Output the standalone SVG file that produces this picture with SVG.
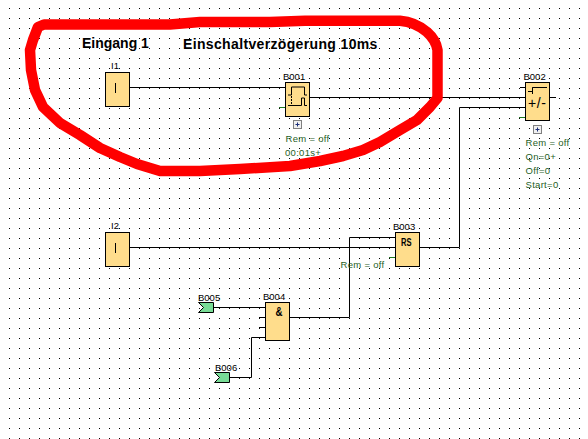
<svg xmlns="http://www.w3.org/2000/svg" width="588" height="439" viewBox="0 0 588 439">
<style>
.b{fill:#ffdd8c;stroke:#000;stroke-width:1}
.w{fill:none;stroke:#000;stroke-width:1}
.s{fill:none;stroke:#1f7a1f;stroke-width:1}
.t{font-family:"Liberation Sans",Arial,sans-serif;font-size:9.5px;fill:#000}
.g{font-family:"Liberation Sans",Arial,sans-serif;font-size:9.5px;fill:#1f5f1f;letter-spacing:.3px}
.h{font-family:"Liberation Sans",Arial,sans-serif;font-size:14px;font-weight:bold;fill:#000}
.k{font-family:"Liberation Sans",Arial,sans-serif;fill:#000}
.m{fill:#78dc96;stroke:#000;stroke-width:1}
.p{fill:#f0f0f0;stroke:#808080;stroke-width:1}
.q{fill:none;stroke:#1c2f7a;stroke-width:1}
</style>
<defs><pattern id="d" x="9" y="8" width="10" height="10" patternUnits="userSpaceOnUse"><rect width="1" height="1" fill="#000"/></pattern></defs>
<rect width="588" height="439" fill="#fff"/>
<rect width="588" height="439" fill="url(#d)"/>
<g id="connectors">
<path class="w" d="M130 87.5H285M310 97.5H525M520 87.5H525M550 97.5H556M130 247.5H395M420 247.5H459.5V107.5H525M349.5 317.5V237.5H395M290 317.5H349.5M214 307.5H265M259 317.5H265M259 327.5H265M265 337.5H251.5V377.5H230"/>
<path class="s" d="M279 107.5H285M519 117.5H525M389 257.5H395"/>
</g>
<g id="I1"><rect class="b" x="105.5" y="72.5" width="24" height="34"/><path class="w" d="M115.500 83V93"/><text class="t" x="111" y="69">I1</text></g>
<g id="B001"><rect class="b" x="285.5" y="82.5" width="24" height="34"/><path class="w" d="M288 95H291.500V87H304.500V95H307M288 105.500H301.500V98H304.500V105.500H307"/><path class="w" stroke-dasharray="2 1" d="M291.500 96V105"/><text class="t" x="283" y="79.500">B001</text>
<rect class="p" x="293.500" y="120.500" width="8" height="8"/><path class="q" d="M295.500 124.500H299.500M297.500 122.500V126.500"/>
<text class="g" x="285.500" y="142">Rem = off</text><text class="g" x="285" y="156">00:01s+</text></g>
<g id="B002"><rect class="b" x="525.5" y="82.5" width="24" height="38"/><path class="w" d="M528 91.500H532.500V87.500H547M532.500 87.500V94"/><text class="k" x="528" y="108" style="font-size:14px;letter-spacing:.6px">+/-</text><text class="t" x="523.500" y="79.500">B002</text>
<rect class="p" x="533.500" y="125.500" width="8" height="8"/><path class="q" d="M535.500 129.500H539.500M537.500 127.500V131.500"/>
<text class="g" x="525.500" y="146">Rem = off</text><text class="g" x="525.500" y="159.500">Qn=0+</text><text class="g" x="525.500" y="173.500">Off=0</text><text class="g" x="525.500" y="187.500">Start=0</text></g>
<g id="I2"><rect class="b" x="105.5" y="232.500" width="24" height="34"/><path class="w" d="M115.500 243V253"/><text class="t" x="111" y="229">I2</text></g>
<g id="B003"><rect class="b" x="395.500" y="232.500" width="24" height="34"/><text class="k" x="401" y="246" textLength="10.500" lengthAdjust="spacingAndGlyphs" style="font-size:11px;font-weight:bold">RS</text><text class="t" x="393" y="229.500">B003</text><text class="g" x="340.500" y="268">Rem = off</text></g>
<g id="B004"><rect class="b" x="265.500" y="302.500" width="24" height="38"/><text class="k" x="275.500" y="316" textLength="7" lengthAdjust="spacingAndGlyphs" style="font-size:12px;font-weight:bold">&amp;</text><text class="t" x="263" y="299.500">B004</text></g>
<g id="B005"><path class="m" d="M198.500 302.500H213.500V312.500H198.500L203.500 307.500Z"/><text class="t" x="198" y="301">B005</text></g>
<g id="B006"><path class="m" d="M214.500 372.500H229.500V382.500H214.500L219.500 377.500Z"/><text class="t" x="215" y="371">B006</text></g>
<text class="h" x="82" y="47.500">Eingang 1</text>
<text class="h" x="183" y="48.500" style="letter-spacing:.35px">Einschaltverzögerung 10ms</text>
<path d="M44 24.500 H170 L200 22 H270 L305 20.800 H400 Q415 22 427 32 Q436 40 437.500 50 V98 L430 107 L417 120 L400 130 L380 142 L363 150 L343 156 L320 161 L290 166 L240 169 L200 171 H160 L137 164 L120 157 L100 148 L80 135 L60 123 L43 107 L35 90 L31 70 L30 50 L33 40 L38 27 Z" fill="none" stroke="#f00" stroke-width="10.500" stroke-linejoin="round"/>
</svg>
